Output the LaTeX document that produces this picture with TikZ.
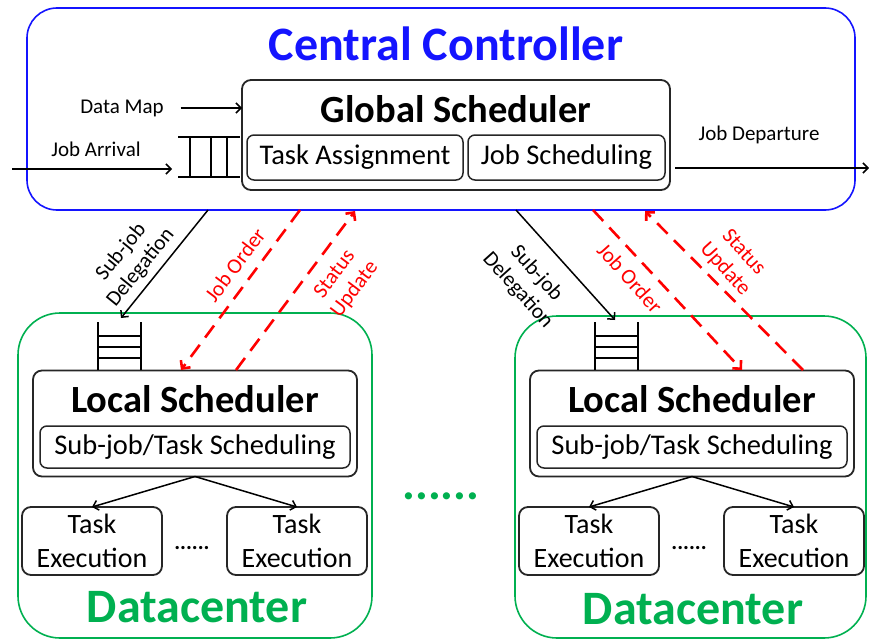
\documentclass[tikz,border=0pt]{standalone}
\usepackage{fontspec}
\setmainfont{Carlito}
\usetikzlibrary{positioning,calc,arrows.meta}
\definecolor{dcgreen}{RGB}{0,176,80}
\definecolor{ccblue}{RGB}{20,20,255}

\begin{document}
\begin{tikzpicture}[x=1pt,y=-1pt]
    \tikzstyle{every node}=[inner sep=0,outer sep=0]
    \tikzstyle{box}=[draw=black!85,line width=1.8,rounded corners=9,rectangle]
    \tikzstyle{inbox}=[box,line width=1.5,rounded corners=7,font=\fontsize{28.5}{30}\selectfont]
    \tikzstyle{region}=[rectangle,line width=1.6]
    \tikzstyle{head}=[font=\bfseries\fontsize{38.5}{40}\selectfont]
    \tikzstyle{big}=[font=\bfseries\fontsize{48}{50}\selectfont]
    \tikzstyle{note}=[font=\fontsize{21}{23}\selectfont,align=center]
    \tikzstyle{slant}=[note,font=\fontsize{21.5}{25}\selectfont]
    \tikzstyle{arr}=[line width=1.5,-{Straight Barb[length=5pt,width=10pt]}]
    \tikzstyle{ctl}=[draw=red,line width=2.6,dash pattern=on 15pt off 9pt,-{Straight Barb[length=6pt,width=12pt]}]
    \tikzstyle{queue}=[line width=1.4]
    \useasboundingbox (0,0) rectangle (869,642);
    {
        % central controller
        \node[region,draw=ccblue,rounded corners=30,minimum width=828,minimum height=202] (cc) at (441,109) {};
        \node[big,text=ccblue] (cct) at (446,44) {Central Controller};
        \node[box,minimum width=428,minimum height=110] (gs) at (456,135) {};
        \node[head] (gst) at (456,109) {Global Scheduler};
        \node[inbox,minimum width=216,minimum height=45] (ta) at (355,157.5) {Task Assignment};
        \node[inbox,minimum width=197,minimum height=45] (js) at (566.5,157.5) {Job Scheduling};

        % input queue
        \node[minimum width=62,minimum height=40] (q) at (209,157) {};
        \draw[queue] (q.north west) -- (q.north east) (q.south west) -- (q.south east);
        \foreach \qx in {190,211,227}
            \draw[queue] (\qx,137) -- (\qx,177);

        \node[note] (dm) at (122,108) {Data Map};
        \node[note] (ja) at (96,149) {Job Arrival};
        \node[note] (jd) at (759,135) {Job Departure};
        \coordinate (jin) at (12,169);
        \coordinate (jout) at (869,168);
        \draw[arr] ([xshift=17]dm.east) -- (dm.east -| gs.west);
        \draw[arr] (jin) -- ([xshift=-6]jin -| q.west);
        \draw[arr] ([xshift=5]gs.east |- jout) -- (jout);

        % datacenters
        \node[region,draw=dcgreen,rounded corners=42,minimum width=354,minimum height=325] (dc1) at (195,475.5) {};
        \node[region,draw=dcgreen,rounded corners=42,minimum width=351,minimum height=322] (dc2) at (690.5,477) {};
        \node[big,text=dcgreen] (dc1t) at (197,607) {Datacenter};
        \node[big,text=dcgreen] (dc2t) at (693,609) {Datacenter};
        \node[big,text=dcgreen,anchor=base] (mdots) at (441,499) {......};

        \foreach \n/\cx in {1/195,2/692}
        {
            \node[box,minimum width=324,minimum height=106] (ls\n) at (\cx,423.5) {};
            \node[head] (ls\n t) at (\cx,399) {Local Scheduler};
            \node[inbox,minimum width=310,minimum height=42] (st\n) at (\cx,447) {Sub-job/Task Scheduling};
            \node[box,minimum width=140,minimum height=68,align=center,font=\fontsize{28}{34}\selectfont] (te\n a) at (\cx-103,541) {Task\\Execution};
            \node[box,minimum width=140,minimum height=68,align=center,font=\fontsize{28}{34}\selectfont] (te\n b) at (\cx+102,541) {Task\\Execution};
            \node[font=\bfseries\fontsize{22}{24}\selectfont,anchor=base] (td\n) at (\cx-3,549) {......};
            \draw[arr] (ls\n.south) -- (te\n a.north);
            \draw[arr] (ls\n.south) -- (te\n b.north);
            % local queue
            \draw[queue] (\cx-97,322) -- (\cx-97,370) (\cx-54,322) -- (\cx-54,370);
            \foreach \qy in {336,347,358}
                \draw[queue] (\cx-97,\qy) -- (\cx-54,\qy);
        }

        % links between controller and datacenters
        \coordinate (sd1) at (208,210);
        \coordinate (sd2) at (516,210);
        \coordinate (jo1) at (300,210);
        \coordinate (jo2) at (593,210);
        \coordinate (su1) at (355,211);
        \coordinate (su2) at (645,211);
        \coordinate (q1) at (121,318);
        \coordinate (q2) at (615,320);
        \coordinate (lo1) at (181,370);
        \coordinate (lo2) at (742,370);
        \coordinate (lu1) at (236,370);
        \coordinate (lu2) at (803,370);

        \draw[arr] (sd1) -- (q1);
        \draw[arr] (sd2) -- (q2);
        \draw[ctl] (jo1) -- (lo1);
        \draw[ctl] (jo2) -- (lo2);
        \draw[ctl] (lu1) -- (su1);
        \draw[ctl] (lu2) -- (su2);

        \node[slant,rotate=51] (sdl1) at (131,260) {Sub-job\\Delegation};
        \node[slant,rotate=53,text=red] (jol1) at (235,265) {Job Order};
        \node[slant,rotate=53,text=red] (sul1) at (345,282) {Status\\Update};
        \node[slant,rotate=-48] (sdl2) at (527,282) {Sub-job\\Delegation};
        \node[slant,rotate=-48,text=red] (jol2) at (630,278) {Job Order};
        \node[slant,rotate=-48,text=red] (sul2) at (734,261) {Status\\Update};
    }
\end{tikzpicture}
\end{document}
